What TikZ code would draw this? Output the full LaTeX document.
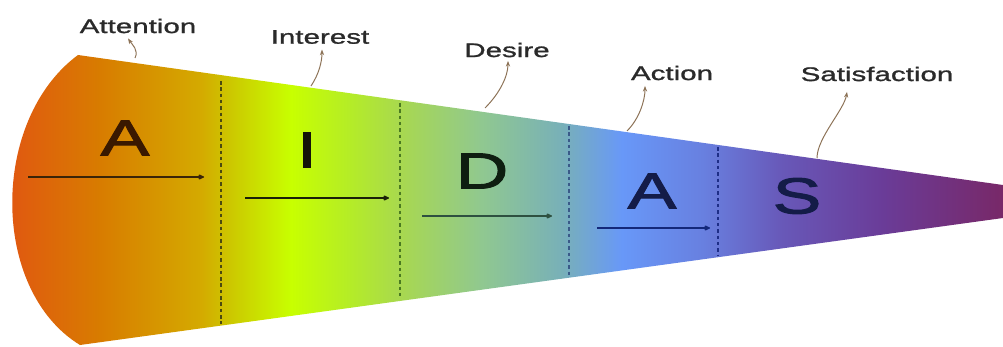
\documentclass[tikz,border=0pt]{standalone}
\usepackage{fontspec}
\setmainfont{Liberation Sans}
\newfontfamily\widefont[FakeStretch=1.5, FakeBold=1.2]{Liberation Sans}
\newfontfamily\stagefont[FakeStretch=1.45, FakeBold=2]{Liberation Sans}
\usetikzlibrary{arrows.meta, positioning, calc}

\definecolor{tagtext}{HTML}{2A2A2A}
\definecolor{leadcol}{HTML}{8C7256}
\definecolor{c0}{HTML}{E05A10}
\definecolor{c1}{HTML}{D87C00}
\definecolor{c2}{HTML}{D4AA00}
\definecolor{c3}{HTML}{CCC800}
\definecolor{c4}{HTML}{C8FF00}
\definecolor{c5}{HTML}{B4EC28}
\definecolor{c6}{HTML}{A8D850}
\definecolor{c7}{HTML}{90C890}
\definecolor{c8}{HTML}{78B0B8}
\definecolor{c9}{HTML}{6898F8}
\definecolor{c10}{HTML}{6880E0}
\definecolor{c11}{HTML}{6858B8}
\definecolor{c12}{HTML}{6A3C98}
\definecolor{c13}{HTML}{782868}

% stops: px p -> 25 + 0.0499 p
\pgfdeclarehorizontalshading{aidas}{100bp}{color(0bp)=(c0); color(25.7bp)=(c0);
  color(30bp)=(c1); color(35bp)=(c2); color(36.5bp)=(c3); color(39.5bp)=(c4);
  color(42.5bp)=(c5); color(45bp)=(c6); color(49bp)=(c7); color(53bp)=(c8);
  color(56bp)=(c9); color(60bp)=(c10); color(64bp)=(c11); color(69bp)=(c12);
  color(75bp)=(c13); color(100bp)=(c13)}

\begin{document}
\begin{tikzpicture}[x=0.025cm, y=-0.025cm, >=Stealth]
    \tikzset{
        stage/.style={font=\stagefont\fontsize{36}{36}\selectfont, inner sep=0pt},
        tag/.style={font=\widefont\fontsize{14}{14}\selectfont, text=tagtext, inner sep=1pt},
        leader/.style={draw=leadcol, line width=0.7pt, -{Stealth[length=4pt, width=3pt]}},
        flow/.style={line width=1pt, -{Latex[length=5pt, width=4.5pt, round]}},
        divider/.style={line width=1pt, dash pattern=on 2.5pt off 2pt}
    }
    \useasboundingbox (0,0) rectangle (1003,347);

    % funnel
    \coordinate (tl) at (78,55);
    \coordinate (tr) at (1003,185);
    \coordinate (br) at (1003,218);
    \coordinate (bl) at (80,345);
    \begin{scope}
        \clip (tl) -- (tr) -- (br) -- (bl) .. controls (-10,290) and (-10,120) .. (tl) -- cycle;
        \shade[shading=aidas] (0,0) rectangle (1003,347);
    \end{scope}

    % dividers
    \coordinate (d1t) at (221,81);  \coordinate (d1b) at (221,324);
    \coordinate (d2t) at (400,103); \coordinate (d2b) at (400,299);
    \coordinate (d3t) at (569,126); \coordinate (d3b) at (569,276);
    \coordinate (d4t) at (718,147); \coordinate (d4b) at (718,256);
    \draw[divider, color={rgb,255:red,74;green,74;blue,16}] (d1t) -- (d1b);
    \draw[divider, color={rgb,255:red,74;green,122;blue,32}] (d2t) -- (d2b);
    \draw[divider, color={rgb,255:red,58;green,90;blue,136}] (d3t) -- (d3b);
    \draw[divider, color={rgb,255:red,30;green,46;blue,136}] (d4t) -- (d4b);

    % stage letters
    \node[stage, text={rgb,255:red,58;green,24;blue,0}] (sA) at (125,138) {A};
    \node[stage, text={rgb,255:red,20;green,20;blue,8}] (sI) at (307,150) {I};
    \node[stage, text={rgb,255:red,14;green,30;blue,16}] (sD) at (482,171) {D};
    \node[stage, text={rgb,255:red,20;green,28;blue,72}] (sA2) at (652,191) {A};
    \node[stage, text={rgb,255:red,20;green,28;blue,72}] (sS) at (797,196) {S};

    % flow arrows
    \coordinate (f1s) at (28,177);  \coordinate (f1e) at (204,177);
    \coordinate (f2s) at (245,198); \coordinate (f2e) at (389,198);
    \coordinate (f3s) at (422,216); \coordinate (f3e) at (552,216);
    \coordinate (f4s) at (597,228); \coordinate (f4e) at (710,228);
    \draw[flow, draw={rgb,255:red,58;green,36;blue,8}] (f1s) -- (f1e);
    \draw[flow, draw={rgb,255:red,26;green,32;blue,8}] (f2s) -- (f2e);
    \draw[flow, draw={rgb,255:red,46;green,80;blue,64}] (f3s) -- (f3e);
    \draw[flow, draw={rgb,255:red,20;green,40;blue,122}] (f4s) -- (f4e);

    % labels
    \node[tag] (attention) at (138,26) {Attention};
    \node[tag] (interest) at (320,37) {Interest};
    \node[tag] (desire) at (507,50) {Desire};
    \node[tag] (action) at (672,73) {Action};
    \node[tag] (satisfaction) at (877,74) {Satisfaction};

    \coordinate (e1) at (135,58);
    \coordinate (e2) at (311,86);
    \coordinate (e3) at (485,108);
    \coordinate (e4) at (627,131);
    \coordinate (e5) at (817,158);
    \draw[leader] (e1) .. controls +(4,-8) and +(4,6) .. ($(attention.south)+(-10,3.5)$);
    \draw[leader] (e2) .. controls +(8,-12) and +(0,12) .. ($(interest.south)+(2,4)$);
    \draw[leader] (e3) .. controls +(15,-15) and +(0,15) .. ($(desire.south)+(1,2)$);
    \draw[leader] (e4) .. controls +(12,-12) and +(0,15) .. ($(action.south)+(-27,4)$);
    \draw[leader] (e5) .. controls +(0,-20) and +(-3,18) .. ($(satisfaction.south)+(-30,9)$);
\end{tikzpicture}
\end{document}
